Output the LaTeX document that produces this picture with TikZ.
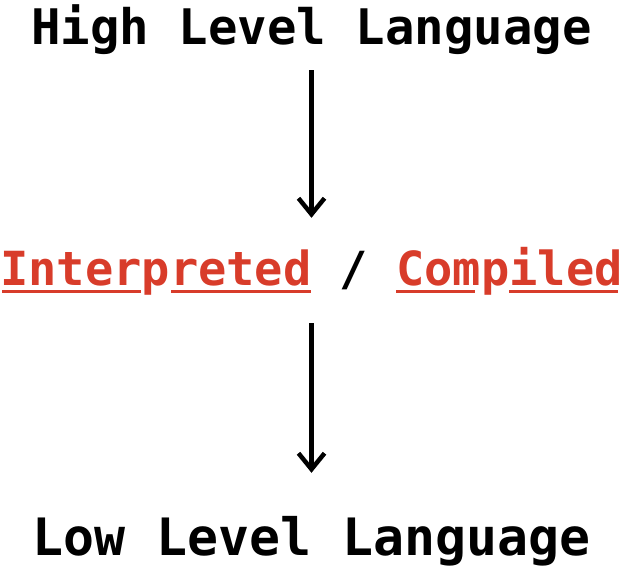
\documentclass[tikz,border=0pt]{standalone}
\usepackage{fontspec}
\setmonofont{DejaVu Sans Mono}
\usetikzlibrary{arrows.meta}
\definecolor{accent}{RGB}{216,60,42}
\tikzset{
  lbl/.style={inner sep=0pt, anchor=base, text height=35pt, text depth=12pt},
  conn/.style={line width=4.5pt, -{Straight Barb[length=16pt,width=26pt]}},
  uline/.style={line width=3pt, accent},
}
\begin{document}
\begin{tikzpicture}[x=1pt,y=1pt]
\useasboundingbox (0,0) rectangle (623,574);
\node[lbl, font=\ttfamily\bfseries\fontsize{49}{49}\selectfont] (top) at (311.5,529.5) {High Level Language};
\node[lbl, font=\ttfamily\bfseries\fontsize{47}{47}\selectfont] (mid) at (311.5,289) {\textcolor{accent}{Interpreted} / \textcolor{accent}{Compiled}};
\node[lbl, font=\ttfamily\bfseries\fontsize{51.5}{51.5}\selectfont] (bot) at (311.5,19) {Low Level Language};
% top.south = 517.5 ; mid.north = 324 ; mid.south = 277 ; bot.north = 54
\draw[conn, shorten <=13.5pt, shorten >=32pt] (top.south) -- (mid.north);
\draw[conn, shorten <=26pt, shorten >=47pt] (mid.south) -- (bot.north);
% underlines with gaps at descenders
\draw[uline] ([xshift=2pt,yshift=-6.5pt]mid.base west) -- ([xshift=141pt,yshift=-6.5pt]mid.base west);
\draw[uline] ([xshift=171pt,yshift=-6.5pt]mid.base west) -- ([xshift=311pt,yshift=-6.5pt]mid.base west);
\draw[uline] ([xshift=396pt,yshift=-6.5pt]mid.base west) -- ([xshift=475pt,yshift=-6.5pt]mid.base west);
\draw[uline] ([xshift=509pt,yshift=-6.5pt]mid.base west) -- ([xshift=618pt,yshift=-6.5pt]mid.base west);
\end{tikzpicture}
\end{document}
